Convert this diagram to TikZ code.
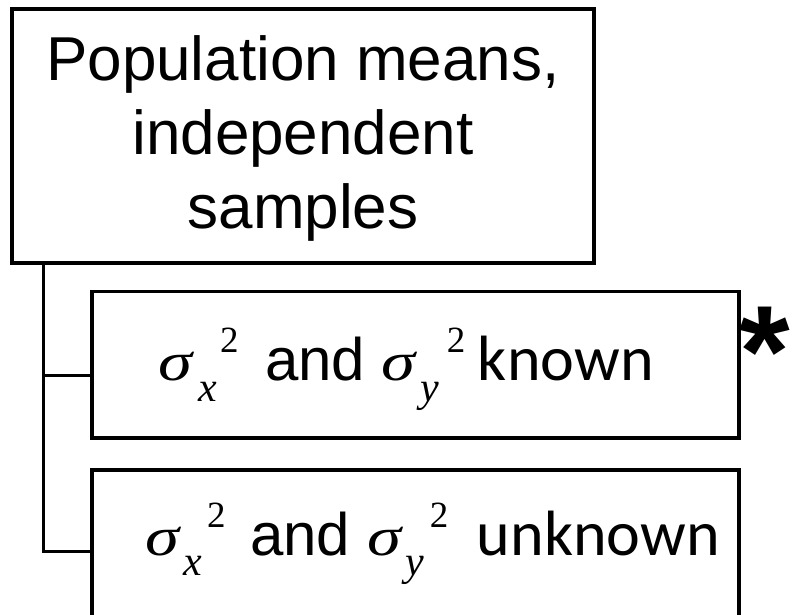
\documentclass[tikz,border=0pt]{standalone}
\usepackage{fontspec}
\setmainfont{Liberation Sans}
\newfontfamily\tmsfont{Liberation Serif}
\newfontfamily\carfont{Carlito}
\newcommand\putat[3]{\makebox[0pt][l]{\hspace*{#1pt}\raisebox{#2pt}{#3}}}
\newcommand\sig{\scalebox{1.25}[1]{\tmsfont\itshape\fontsize{55}{55}\selectfont σ}}
\newcommand\subs[1]{{\tmsfont\itshape\fontsize{42}{42}\selectfont #1}}
\newcommand\supt{{\tmsfont\fontsize{37}{37}\selectfont 2}}
\newcommand\andw{{\fontsize{60}{60}\selectfont and}}
\tikzset{
  box/.style={draw=black, line width=3.8pt, rectangle, inner sep=0pt, outer sep=0pt, anchor=north west},
  conn/.style={draw=black, line width=3pt},
  lbl/.style={inner sep=0pt, outer sep=0pt, anchor=base west},
}
\begin{document}
\begin{tikzpicture}[x=1pt, y=-1pt]
\fill[white] (0,0) rectangle (796,615);
\path[use as bounding box] (0,0) rectangle (796,615);
% boxes
\node[box, line width=4pt, minimum width=582pt, minimum height=253.5pt] (top) at (12,9) {};
\node[box, minimum width=647pt, minimum height=146.5pt] (known) at (92,291.5) {};
\node[box, minimum width=647pt, minimum height=170pt] (unknown) at (92,470) {};
% top text
\node[inner sep=0pt, align=center, font=\fontsize{62}{74}\selectfont] (toptext) at (303,138)
  {Population means,\\independent\\samples};
% row 2 text
\node[lbl] (t2) at (158,380) {\putat{0}{0}{\sig}\putat{40}{-21}{\subs{x}}\putat{62}{28}{\supt}%
  \putat{107}{0}{\andw}\putat{223}{0}{\sig}\putat{262}{-21}{\subs{y}}\putat{289}{28}{\supt}%
  \putat{320}{0}{\carfont\fontsize{64}{64}\selectfont known}\hspace*{495pt}};
% row 3 text
\node[lbl] (t3) at (145,555) {\putat{0}{0}{\sig}\putat{38}{-20}{\subs{x}}\putat{62}{28}{\supt}%
  \putat{105}{0}{\andw}\putat{222}{0}{\sig}\putat{260}{-20}{\subs{y}}\putat{285}{28}{\supt}%
  \putat{332}{0}{\carfont\fontsize{64}{64}\selectfont unknown}\hspace*{583pt}};
% star
\node[lbl, font=\bfseries\fontsize{130}{130}\selectfont] (star) at (739,396) {*};
% connectors
\coordinate (trunk) at (43,262);
\draw[conn] (trunk) |- (known.west |- 0,375);
\draw[conn] (trunk) |- (unknown.west |- 0,551);
\end{tikzpicture}
\end{document}
